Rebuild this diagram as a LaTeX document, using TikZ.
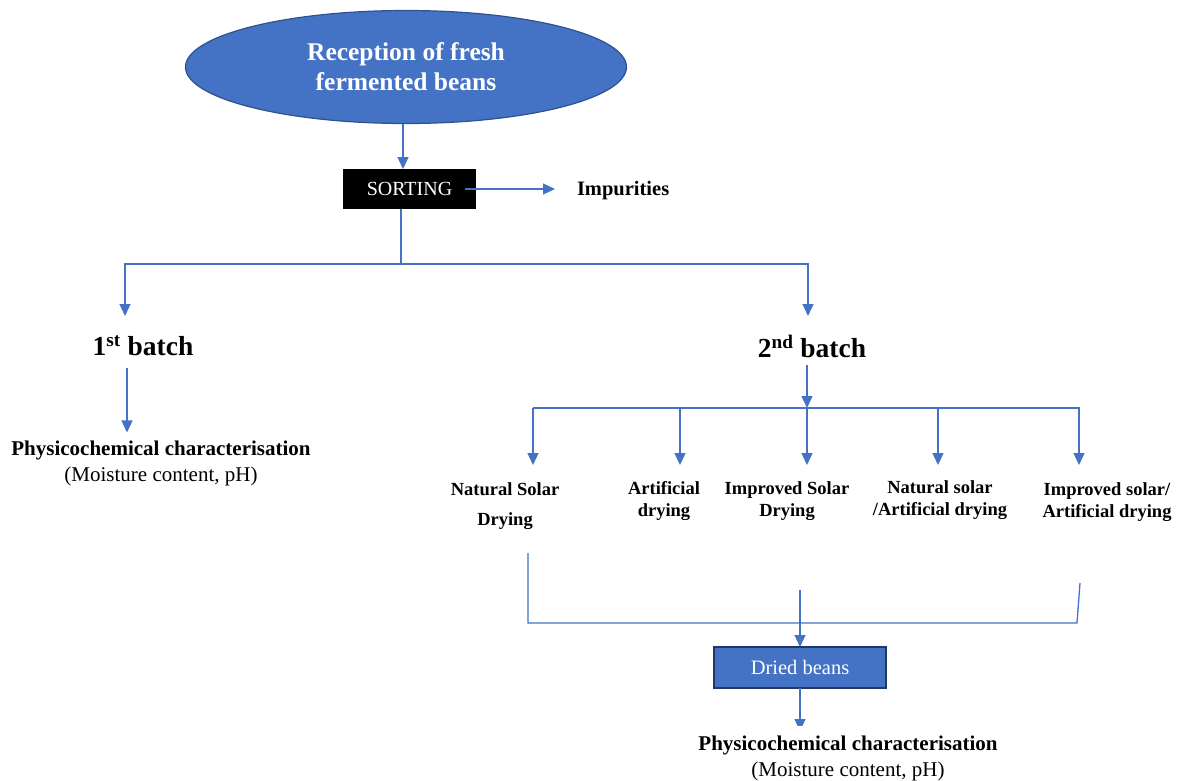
\documentclass[tikz,border=0pt]{standalone}
\usepackage{fontspec}
\setmainfont{Liberation Serif}
\usetikzlibrary{arrows.meta,shapes.geometric}
\definecolor{accent}{HTML}{4472C4}
\definecolor{edge}{HTML}{2F528F}
\definecolor{deep}{HTML}{203864}

\begin{document}
\begin{tikzpicture}[x=1pt,y=-1pt,
  every node/.style={inner sep=0pt,outer sep=0pt},
  oval/.style={ellipse,draw=edge,line width=1.2pt,fill=accent,text=white,
    minimum width=441pt,minimum height=113pt,align=center,
    font=\bfseries\fontsize{25.5}{30}\selectfont},
  blk/.style={fill=black,text=white,minimum width=133pt,minimum height=40pt,
    font=\fontsize{20}{22}\selectfont},
  bx/.style={draw=deep,line width=1.6pt,fill=accent,text=white,
    minimum width=172pt,minimum height=41pt,font=\fontsize{20.5}{22}\selectfont},
  hd/.style={font=\bfseries\fontsize{27.5}{30}\selectfont},
  lb/.style={font=\bfseries\fontsize{20.5}{22}\selectfont},
  ch/.style={align=center,font=\bfseries\fontsize{21}{26}\selectfont},
  dr/.style={align=center,font=\bfseries\fontsize{18.5}{22.5}\selectfont},
  wire/.style={draw=accent,line width=1.3pt},
  flow/.style={wire,-{Triangle[length=12pt,width=11pt]}}]

\useasboundingbox (0,0) rectangle (1180,780);

% ---- reception and sorting ----------------------------------------------
\node[oval] (recep) at (406,67) {Reception of fresh\\fermented beans};
\node[blk] (sort) at (409.5,189) {SORTING};
\node[lb,anchor=west] (imp) at (577,191) {Impurities};

\draw[flow] (recep.south -| 403,0) -- (sort.north -| 403,0);
\draw[flow] ([xshift=-11pt]sort.east) -- ([xshift=-22pt]imp.west |- sort.east);

% ---- split into the two batches -----------------------------------------
\coordinate (split) at (401,264);
\coordinate (in1) at (125,316);
\coordinate (in2) at (808,316);
\draw[wire] (sort.south -| split) -- (split);
\draw[flow] (split) -| (in1);
\draw[flow] (split) -| (in2);

\node[hd] (b1) at (143,346) {1\textsuperscript{st} batch};
\node[hd] (b2) at (812,346) {2\textsuperscript{nd} batch};

% ---- 1st batch ----------------------------------------------------------
\node[ch] (phys1) at (161,463) {Physicochemical characterisation\\\mdseries(Moisture content, pH)};
\draw[flow] ([yshift=-12pt]b1.south -| 127,0) -- ([yshift=8pt]phys1.north -| 127,0);

% ---- 2nd batch, drying methods ------------------------------------------
\coordinate (fork) at (807,408);
\draw[flow] ([yshift=-8pt]b2.south -| fork) -- (fork);
\draw[wire] (533,408) -- (1080,408);

\node[dr] (nsd) at (505,506) {Natural Solar\\[8pt]Drying};
\node[dr] (art) at (664,501) {Artificial\\drying};
\node[dr] (isd) at (787,501) {Improved Solar\\Drying};
\node[dr] (nsa) at (940,500) {Natural solar\\/Artificial drying};
\node[dr] (isa) at (1107,502) {Improved solar/\\Artificial drying};

\foreach \x in {533,680,807,938,1079} {
  \draw[flow] (\x,408) -- (\x,465);
}

% ---- collection to dried beans ------------------------------------------
\coordinate (c1) at (528,553);
\coordinate (c2) at (528,623);
\coordinate (c3) at (1077,623);
\coordinate (c4) at (1080,583);
\draw[wire] (c1) -- (c2) -- (c3) -- (c4);

\node[bx] (dried) at (800,667.5) {Dried beans};
\draw[flow] (800,590) -- (dried.north);

\coordinate (tip) at (800,731);
\draw[flow] (dried.south) -- (tip);
\node[ch,fill=white,inner ysep=9pt] (phys2) at (848,758) {Physicochemical characterisation\\\mdseries(Moisture content, pH)};
\end{tikzpicture}
\end{document}
